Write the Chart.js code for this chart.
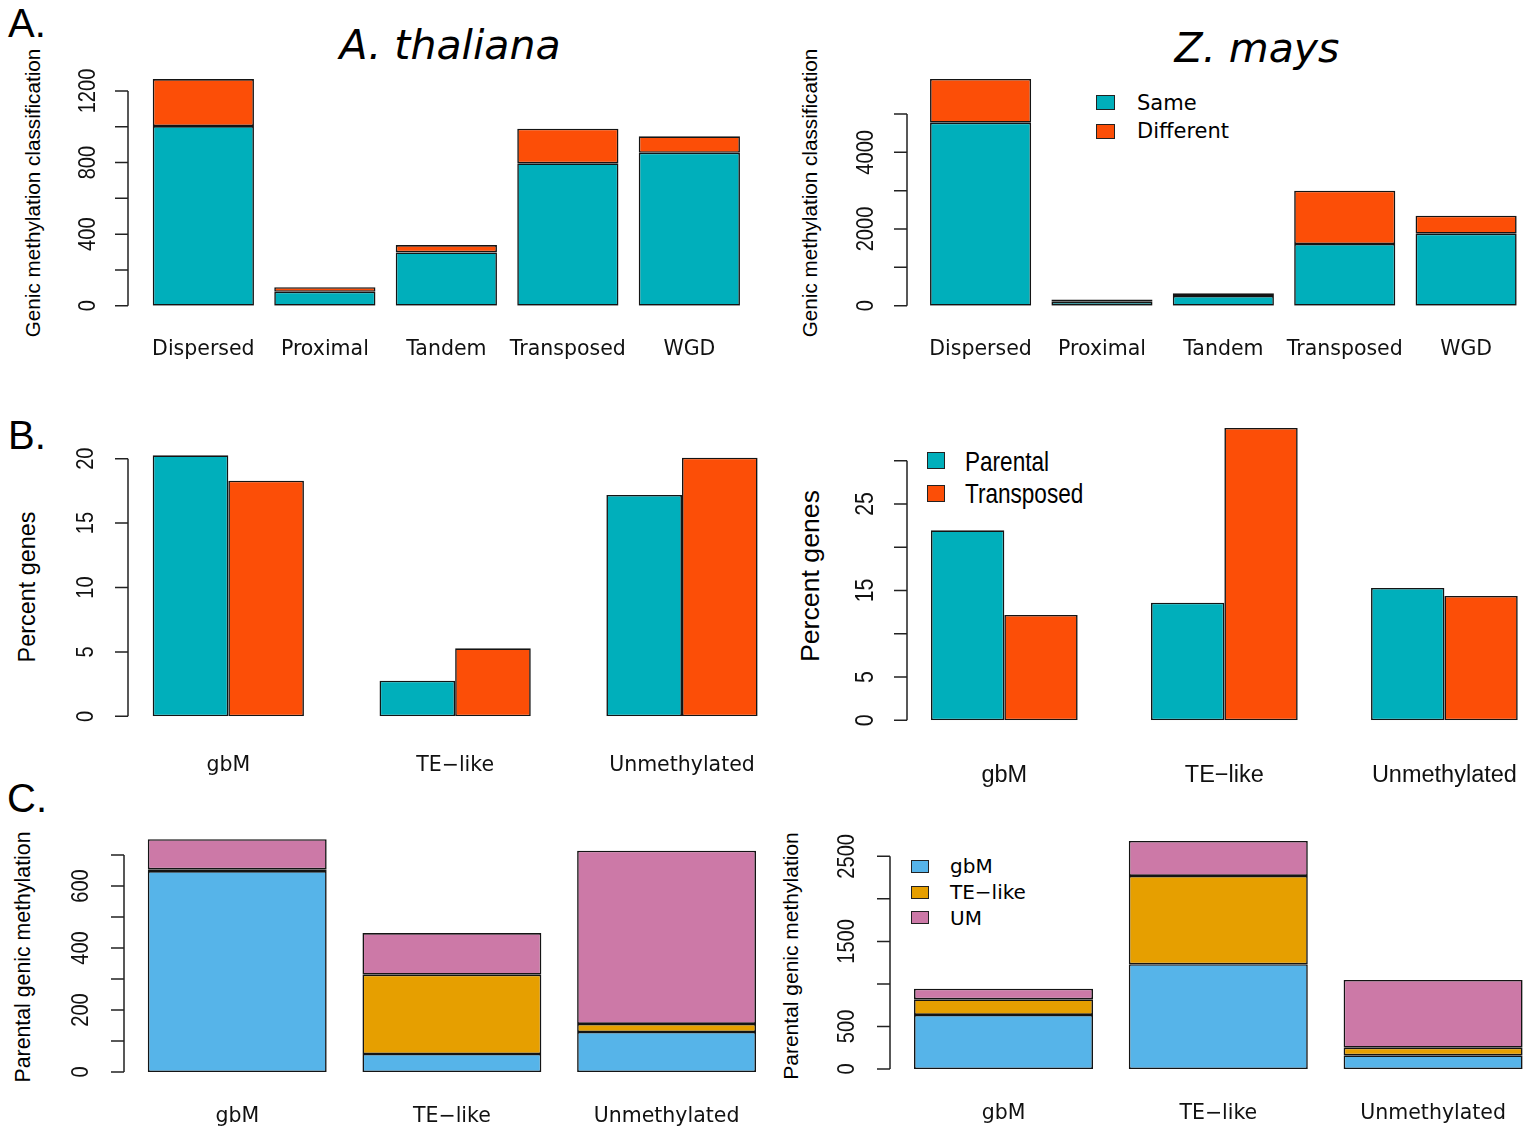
<!DOCTYPE html>
<html>
<head>
<meta charset="utf-8">
<script src="https://cdn.jsdelivr.net/npm/chart.js@4.4.0/dist/chart.umd.min.js"></script>
<style>
html, body { margin:0; padding:0; width:1533px; height:1128px; overflow:hidden; background:#fff; }
canvas { position:absolute; left:0; top:0; }
.t { position:absolute; white-space:nowrap; line-height:1; color:#000; }
.c { transform: translate(-50%,-50%); }
.l { transform: translateY(-50%); }
.ln { transform: translateY(-50%) scaleX(0.82); transform-origin: left center; }
.r { transform: translate(-50%,-50%) rotate(-90deg); }
.box { position:absolute; border:1.5px solid #222; box-sizing:border-box; }
.sans { font-family:"Liberation Sans", Arial, sans-serif; }
.dv { font-family:"DejaVu Sans", sans-serif; }
</style>
</head>
<body>
<div class="t c sans" style="left:27px;top:23px;font-size:40px">A.</div>
<div class="t c sans" style="left:27px;top:435px;font-size:40px">B.</div>
<div class="t c sans" style="left:27px;top:798px;font-size:40px">C.</div>

<div class="t c dv" style="left:450px;top:45px;font-size:41px;font-style:italic">A. thaliana</div>
<div class="t c dv" style="left:1257px;top:48px;font-size:41px;font-style:italic">Z. mays</div>

<div class="t r sans" style="left:33px;top:193px;font-size:20.7px">Genic methylation classification</div>
<div class="t r sans" style="left:810px;top:193px;font-size:20.7px">Genic methylation classification</div>
<div class="t r sans" style="left:28px;top:587px;font-size:23.4px">Percent genes</div>
<div class="t r sans" style="left:810px;top:576px;font-size:26.7px">Percent genes</div>
<div class="t r sans" style="left:24px;top:957px;font-size:21.3px">Parental genic methylation</div>
<div class="t r sans" style="left:790px;top:956px;font-size:21px">Parental genic methylation</div>

<div class="box" style="left:1096px;top:95px;width:19px;height:15px;background:#00AFBB"></div>
<div class="box" style="left:1096px;top:124px;width:19px;height:15px;background:#FC4E07"></div>
<div class="t l dv" style="left:1137px;top:103px;font-size:21px">Same</div>
<div class="t l dv" style="left:1137px;top:131px;font-size:21px">Different</div>

<div class="box" style="left:927px;top:452px;width:18px;height:17px;background:#00AFBB"></div>
<div class="box" style="left:927px;top:485px;width:18px;height:17px;background:#FC4E07"></div>
<div class="t ln sans" style="left:965px;top:462px;font-size:27.5px">Parental</div>
<div class="t ln sans" style="left:965px;top:494px;font-size:27.5px">Transposed</div>

<div class="box" style="left:911px;top:860px;width:18px;height:13px;background:#56B4E9"></div>
<div class="box" style="left:911px;top:886px;width:18px;height:13px;background:#E69F00"></div>
<div class="box" style="left:911px;top:911px;width:18px;height:13px;background:#CC79A7"></div>
<div class="t l dv" style="left:950px;top:866px;font-size:20px">gbM</div>
<div class="t l dv" style="left:950px;top:892px;font-size:20px">TE−like</div>
<div class="t l dv" style="left:950px;top:918px;font-size:20px">UM</div>

<script>
// duplicate types (row A)
var dupTypes = ['Dispersed', 'Proximal', 'Tandem', 'Transposed', 'WGD'];
var athSame = [1004, 78, 298, 796, 855];
var athDiff = [263, 25, 41, 193, 92];
var zmSame = [4772, 100, 253, 1609, 1877];
var zmDiff = [1139, 60, 70, 1390, 470];

// methylation classes (rows B and C)
var methClasses = ['gbM', 'TE\u2212like', 'Unmethylated'];
var athParental = [20.26, 2.76, 17.18];
var athTransposed = [18.29, 5.28, 20.08];
var zmParental = [21.96, 13.59, 15.29];
var zmTransposed = [12.17, 33.78, 14.37];

var athGbm = [648, 58, 129];
var athTe = [6, 256, 26];
var athUm = [97, 134, 559];
var zmGbm = [635, 1231, 161];
var zmTe = [184, 1038, 90];
var zmUm = [125, 411, 795];

// y ticks and which of them get a label
var athCountTicks = [0, 200, 400, 600, 800, 1000, 1200];
var athCountLabels = [0, 400, 800, 1200];
var zmCountTicks = [0, 1000, 2000, 3000, 4000, 5000];
var zmCountLabels = [0, 2000, 4000];
var athPctTicks = [0, 5, 10, 15, 20];
var athPctLabels = [0, 5, 10, 15, 20];
var zmPctTicks = [0, 5, 10, 15, 20, 25, 30];
var zmPctLabels = [0, 5, 15, 25];
var athParTicks = [0, 100, 200, 300, 400, 500, 600, 700];
var athParLabels = [0, 200, 400, 600];
var zmParTicks = [0, 500, 1000, 1500, 2000, 2500];
var zmParLabels = [0, 500, 1500, 2500];

var teal = '#00AFBB', orange = '#FC4E07';
var blue = '#56B4E9', gold = '#E69F00', pink = '#CC79A7';

var W = 1600, H = 1128, XH = 70;

// R style y axis: line only between first and last tick, rotated labels
var rAxis = {
    id: 'rAxis',
    afterDraw: function(chart, args, opts) {
        var y = chart.scales.y;
        var ctx = chart.ctx;
        var ticks = opts.ticks;
        ctx.save();
        ctx.strokeStyle = '#222';
        ctx.lineWidth = 1.5;
        ctx.beginPath();
        ctx.moveTo(opts.x, y.getPixelForValue(ticks[0]));
        ctx.lineTo(opts.x, y.getPixelForValue(ticks[ticks.length - 1]));
        for (var i = 0; i < ticks.length; i++) {
            var py = y.getPixelForValue(ticks[i]);
            ctx.moveTo(opts.x, py);
            ctx.lineTo(opts.x - 13, py);
        }
        ctx.stroke();
        ctx.fillStyle = '#111';
        ctx.font = opts.font;
        ctx.textAlign = 'center';
        ctx.textBaseline = 'middle';
        for (var j = 0; j < opts.labels.length; j++) {
            var v = opts.labels[j];
            ctx.save();
            ctx.translate(opts.labelX, y.getPixelForValue(v));
            ctx.rotate(-Math.PI / 2);
            ctx.scale(0.82, 1);
            ctx.fillText(String(v), 0, 0);
            ctx.restore();
        }
        ctx.restore();
    }
};

function makeChart(p) {
    var canvas = document.createElement('canvas');
    canvas.width = W;
    canvas.height = H;
    document.body.appendChild(canvas);
    var top = p.y0 - p.ymax * p.ppu;
    var datasets = p.series.map(function(s) {
        return {
            data: s[0],
            backgroundColor: s[1],
            borderColor: '#141414',
            borderWidth: 1.6,
            borderSkipped: false,
            barPercentage: p.barPct,
            categoryPercentage: p.catPct
        };
    });
    return new Chart(canvas.getContext('2d'), {
        type: 'bar',
        data: { labels: p.labels, datasets: datasets },
        options: {
            responsive: false,
            animation: false,
            events: [],
            layout: { padding: { left: p.left, right: W - p.right, top: top, bottom: H - p.y0 - XH } },
            plugins: {
                legend: { display: false },
                tooltip: { enabled: false },
                rAxis: { x: p.axisX, labelX: p.labelX, ticks: p.ticks, labels: p.tickLabels, font: p.tickFont }
            },
            scales: {
                x: {
                    stacked: p.stacked,
                    grid: { display: false, drawTicks: false },
                    border: { display: false },
                    ticks: { color: '#111', font: p.xFont, padding: p.xPad, maxRotation: 0, autoSkip: false },
                    afterFit: function(s) { s.height = XH; }
                },
                y: { display: false, stacked: p.stacked, min: 0, max: p.ymax }
            }
        },
        plugins: [rAxis]
    });
}

var dvFont = { family: 'DejaVu Sans', size: 20.5 };
var tickFont = '24.5px "Liberation Sans"';

makeChart({ labels: dupTypes, series: [[athSame, teal], [athDiff, orange]], stacked: true,
    y0: 305.7, ppu: 0.1789, ymax: 1400, left: 142.6, right: 750.1, barPct: 0.833, catPct: 1,
    axisX: 128, labelX: 88, ticks: athCountTicks, tickLabels: athCountLabels, tickFont: tickFont,
    xFont: dvFont, xPad: 32 });

makeChart({ labels: dupTypes, series: [[zmSame, teal], [zmDiff, orange]], stacked: true,
    y0: 305.7, ppu: 0.03835, ymax: 6200, left: 919.9, right: 1526.8, barPct: 0.833, catPct: 1,
    axisX: 907, labelX: 866, ticks: zmCountTicks, tickLabels: zmCountLabels, tickFont: tickFont,
    xFont: dvFont, xPad: 32 });

makeChart({ labels: methClasses, series: [[athParental, teal], [athTransposed, orange]], stacked: false,
    y0: 716.3, ppu: 12.88, ymax: 22, left: 114.9, right: 795.4, barPct: 1, catPct: 0.6667,
    axisX: 128, labelX: 86, ticks: athPctTicks, tickLabels: athPctLabels, tickFont: tickFont,
    xFont: dvFont, xPad: 37 });

makeChart({ labels: methClasses, series: [[zmParental, teal], [zmTransposed, orange]], stacked: false,
    y0: 720.3, ppu: 8.653, ymax: 35, left: 894.3, right: 1554.4, barPct: 1, catPct: 0.6667,
    axisX: 907, labelX: 866, ticks: zmPctTicks, tickLabels: zmPctLabels, tickFont: '26px "Liberation Sans"',
    xFont: { family: 'Liberation Sans', size: 23.5 }, xPad: 41 });

makeChart({ labels: methClasses, series: [[athGbm, blue], [athTe, gold], [athUm, pink]], stacked: true,
    y0: 1072, ppu: 0.31, ymax: 780, left: 129.9, right: 773.9, barPct: 0.8333, catPct: 1,
    axisX: 124, labelX: 81, ticks: athParTicks, tickLabels: athParLabels, tickFont: tickFont,
    xFont: dvFont, xPad: 32 });

makeChart({ labels: methClasses, series: [[zmGbm, blue], [zmTe, gold], [zmUm, pink]], stacked: true,
    y0: 1069, ppu: 0.08508, ymax: 2900, left: 896.1, right: 1540.5, barPct: 0.8333, catPct: 1,
    axisX: 890, labelX: 847, ticks: zmParTicks, tickLabels: zmParLabels, tickFont: tickFont,
    xFont: dvFont, xPad: 32.5 });
</script>
</body>
</html>
